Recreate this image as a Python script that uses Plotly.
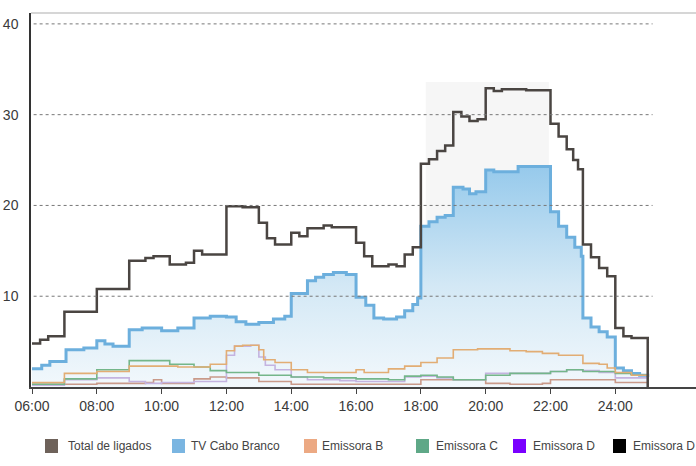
import plotly.graph_objects as go

# ---------------- data (hours, values) ----------------
total_t = [6.0, 6.25, 6.5, 7.0, 8.0, 9.0, 9.5, 9.75, 10.25, 10.75, 11.0, 11.25, 12.0, 12.5, 13.0, 13.25,
           13.5, 14.0, 14.25, 14.5, 15.0, 15.25, 16.0, 16.25, 16.5, 17.0, 17.25, 17.5, 17.75, 18.0,
           18.25, 18.5, 18.75, 19.0, 19.25, 19.5, 19.75, 20.0, 20.25, 20.5, 21.25, 22.0, 22.25, 22.5,
           22.7, 22.85, 23.0, 23.25, 23.5, 23.75, 24.0, 24.25, 24.5, 25.0]
total_v = [4.8, 5.2, 5.6, 8.3, 10.8, 13.9, 14.2, 14.4, 13.5, 13.7, 15.0, 14.6, 19.9, 19.8, 18.1, 16.4,
           15.7, 17.0, 16.6, 17.5, 17.8, 17.6, 15.9, 14.4, 13.3, 13.5, 13.3, 14.6, 15.4, 24.6,
           25.1, 26.0, 26.6, 30.3, 29.8, 29.3, 29.5, 32.9, 32.6, 32.8, 32.7, 29.0, 27.6, 26.2,
           25.0, 24.0, 15.7, 14.3, 13.1, 12.2, 6.5, 5.6, 5.4, 0.0]

cabo_t = [6.0, 6.3, 6.55, 7.05, 7.6, 8.0, 8.25, 8.5, 9.0, 9.4, 10.0, 10.5, 11.0, 11.5, 12.0, 12.3,
          12.6, 13.0, 13.45, 13.8, 14.0, 14.5, 14.75, 15.0, 15.3, 15.7, 16.0, 16.3, 16.55, 16.85,
          17.25, 17.5, 17.75, 17.9, 18.0, 18.25, 18.5, 18.75, 19.0, 19.3, 19.5, 19.7, 20.0, 20.25,
          21.0, 22.0, 22.25, 22.5, 22.75, 22.95, 23.0, 23.25, 23.5, 23.75, 24.0, 24.25, 24.5, 24.75, 25.0]
cabo_v = [2.0, 2.4, 2.8, 4.1, 4.3, 5.1, 4.75, 4.5, 6.3, 6.5, 6.2, 6.5, 7.6, 7.8, 7.7, 7.2,
          6.9, 7.1, 7.5, 7.8, 10.3, 11.7, 12.1, 12.4, 12.6, 12.4, 9.9, 9.0, 7.6, 7.5,
          7.7, 8.4, 9.1, 9.8, 17.7, 18.2, 18.7, 18.9, 22.0, 21.8, 21.3, 21.5, 23.9, 23.7,
          24.3, 19.3, 17.7, 16.5, 15.4, 14.4, 7.6, 6.6, 6.1, 5.5, 2.1, 1.8, 1.5, 1.3, 1.1]

b_t = [6.0, 7.0, 8.0, 9.0, 10.5, 11.5, 12.0, 12.25, 12.5, 13.0, 13.15, 13.5, 14.0, 14.5, 16.0, 16.25,
       17.0, 17.5, 18.0, 18.5, 19.0, 19.75, 20.75, 21.25, 21.75, 22.25, 23.0, 23.5, 23.75, 24.0, 24.5, 25.0]
b_v = [0.5, 1.5, 1.7, 2.3, 2.2, 2.5, 4.0, 4.5, 4.6, 4.1, 3.0, 2.7, 1.9, 1.6, 1.9, 1.6,
       2.0, 2.3, 2.7, 3.2, 4.1, 4.2, 4.0, 3.9, 3.7, 3.5, 2.6, 2.5, 2.1, 1.6, 1.3, 1.1]

c_t = [6.0, 7.0, 8.0, 9.0, 10.25, 11.0, 11.5, 12.0, 13.0, 14.0, 15.0, 16.0, 17.0, 17.5, 18.0, 18.5,
       19.0, 20.0, 20.75, 22.0, 22.5, 23.0, 24.0, 24.5, 25.0]
c_v = [0.3, 0.9, 1.9, 2.9, 2.5, 2.2, 1.8, 1.6, 1.3, 1.1, 1.0, 0.9, 0.8, 1.2, 1.3, 1.1,
       0.8, 1.3, 1.5, 1.7, 1.9, 1.7, 1.5, 1.3, 1.1]

dp_t = [6.0, 7.0, 8.0, 9.0, 9.5, 10.0, 11.0, 12.0, 12.25, 12.75, 13.0, 13.2, 13.5, 14.0, 14.5, 15.5,
        16.0, 17.5, 18.0, 18.5, 19.0, 20.0, 21.5, 22.0, 22.5, 23.0, 23.5, 24.0, 25.0]
dp_v = [0.2, 0.8, 1.0, 0.6, 0.4, 0.5, 0.6, 3.5, 4.5, 4.6, 3.3, 2.4, 1.9, 1.1, 0.8, 0.7,
        0.6, 1.1, 1.2, 1.0, 0.8, 1.5, 1.5, 1.7, 1.9, 1.8, 1.6, 1.0, 0.5]

dk_t = [6.0, 8.0, 9.5, 9.75, 10.0, 11.0, 11.5, 12.0, 13.0, 14.0, 16.0, 18.0, 19.0, 20.0, 20.75,
        21.75, 22.0, 24.0, 25.0]
dk_v = [0.3, 0.4, 0.5, 0.8, 0.4, 0.9, 1.1, 1.0, 0.6, 0.3, 0.3, 0.8, 0.8, 0.4, 0.3,
        0.4, 0.8, 0.5, 0.2]

x_ticks = [6, 8, 10, 12, 14, 16, 18, 20, 22, 24]
x_labels = ["06:00", "08:00", "10:00", "12:00", "14:00", "16:00", "18:00", "20:00", "22:00", "24:00"]
y_ticks = [10, 20, 30, 40]

legend_names = ["Total de ligados", "TV Cabo Branco", "Emissora B", "Emissora C", "Emissora D", "Emissora D"]
legend_colors = ["#6e625a", "#7ab5e1", "#eca983", "#5fa887", "#7a00ff", "#000000"]

FONT = "Liberation Sans, Arial, sans-serif"

# layout geometry (pixels)
W, H = 696, 466
ML, MR, MT, MB = 31, 0, 13, 79
PW, PH = W - ML - MR, H - MT - MB
legend_swatch_px = [45, 172, 304, 416, 513, 613]
legend_text_px = [66, 189, 320, 434, 531, 631]
legend_y_px = 446


def px_to_paper_x(px):
    return (px - ML) / PW


def px_to_paper_y(py):
    return (H - MB - py) / PH


fig = go.Figure()

# faint grey backdrop from the print
fig.add_shape(type="rect", x0=18.15, x1=21.95, y0=0, y1=33.6, fillcolor="#f6f6f6",
              line=dict(width=0), layer="below")

fig.add_trace(go.Scatter(
    x=cabo_t, y=cabo_v, mode="lines", line=dict(shape="hv", color="#6cafdd", width=3),
    fill="tozeroy",
    fillgradient=dict(type="vertical", start=0, stop=25,
                      colorscale=[[0, "rgba(242,248,252,1)"], [0.45, "#d3e8f5"], [1, "#93c8eb"]]),
    showlegend=False, hoverinfo="skip"))

small = [(dk_t, dk_v, "#c99a8a"), (dp_t, dp_v, "#c4b3e0"), (c_t, c_v, "#74b68a"), (b_t, b_v, "#e2ad74")]
for t, v, col in small:
    fig.add_trace(go.Scatter(x=t, y=v, mode="lines", line=dict(shape="hv", color=col, width=1.6),
                             showlegend=False, hoverinfo="skip"))

fig.add_trace(go.Scatter(x=total_t, y=total_v, mode="lines",
                         line=dict(shape="hv", color="#4a4542", width=2.5),
                         showlegend=False, hoverinfo="skip"))

for v in y_ticks:
    fig.add_shape(type="line", x0=6.05, x1=25.15, y0=v, y1=v,
                  line=dict(color="#777777", width=1, dash="dot"), layer="above")

fig.add_shape(type="line", xref="paper", yref="paper", x0=0, x1=1, y0=1, y1=1,
              line=dict(color="#c8c8c8", width=1.5))

# legend drawn as swatches + text
ly = px_to_paper_y(legend_y_px)
half = 7 / PH
for name, col, sx, tx in zip(legend_names, legend_colors, legend_swatch_px, legend_text_px):
    fig.add_shape(type="rect", xref="paper", yref="paper",
                  x0=px_to_paper_x(sx), x1=px_to_paper_x(sx + 13), y0=ly - half, y1=ly + half,
                  fillcolor=col, line=dict(width=0))
    fig.add_annotation(xref="paper", yref="paper", x=px_to_paper_x(tx), y=ly, text=name,
                       showarrow=False, xanchor="left", yanchor="middle",
                       font=dict(size=12, color="#444444", family=FONT))

fig.update_layout(
    width=W, height=H,
    margin=dict(l=ML, r=MR, t=MT, b=MB),
    paper_bgcolor="white", plot_bgcolor="white",
    font=dict(family=FONT, color="#444444"),
    showlegend=False,
)
fig.update_xaxes(range=[5.969, 26.49], tickvals=x_ticks, ticktext=x_labels, showgrid=False,
                 zeroline=False, showline=True, linecolor="#444444", linewidth=1.5,
                 ticks="outside", ticklen=5, tickcolor="#444444",
                 tickfont=dict(size=14, color="#3a3a3a", family=FONT), fixedrange=True)
fig.update_yaxes(range=[0, 41.2], tickvals=y_ticks, showgrid=False, zeroline=False,
                 showline=True, linecolor="#333333", linewidth=1.5, ticks="",
                 ticklabelstandoff=8,
                 tickfont=dict(size=14, color="#3a3a3a", family=FONT), fixedrange=True)

fig.write_html("out.html")
